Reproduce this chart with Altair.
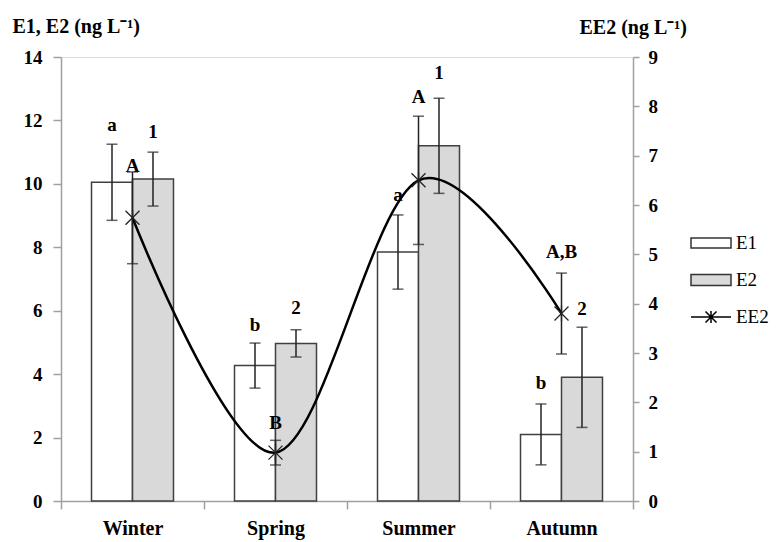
import altair as alt
import pandas as pd

seasons = ["Winter", "Spring", "Summer", "Autumn"]
e1 = [10.05, 4.27, 7.85, 2.10]
e1_err = [1.20, 0.71, 1.17, 0.96]
e2 = [10.15, 4.97, 11.20, 3.90]
e2_err = [0.85, 0.43, 1.50, 1.58]
ee2 = [5.74, 0.98, 6.50, 3.80]
ee2_err = [0.93, 0.25, 1.30, 0.82]

# significance letters
bar_lab_season = ["Winter", "Winter", "Spring", "Spring", "Summer", "Summer", "Autumn", "Autumn"]
bar_lab_series = ["E1", "E2", "E1", "E2", "E1", "E2", "E1", "E2"]
bar_lab_y = [11.85, 11.65, 5.55, 6.1, 9.65, 13.5, 3.72, 6.05]
bar_lab_text = ["a", "1", "b", "2", "a", "1", "b", "2"]
ee2_lab_y = [10.55, 2.45, 12.75, 7.85]
ee2_lab_text = ["A", "B", "A", "A,B"]

series_names = ["E1", "E2", "EE2"]
series_fill = ["white", "#d9d9d9", "transparent"]
series_stroke = ["#333333", "#333333", "black"]
legend_paths = [
    "M-2,-0.5L2,-0.5L2,0.5L-2,0.5Z",
    "M-2,-0.55L2,-0.55L2,0.55L-2,0.55Z",
    "M-2,0L2,0M-0.55,-0.55L0.55,0.55M-0.55,0.55L0.55,-0.55M0,-0.6L0,0.6",
]

rows = []
for i, s in enumerate(seasons):
    rows.append({"season": s, "series": "E1", "value": e1[i], "lo": e1[i] - e1_err[i], "hi": e1[i] + e1_err[i]})
    rows.append({"season": s, "series": "E2", "value": e2[i], "lo": e2[i] - e2_err[i], "hi": e2[i] + e2_err[i]})
bars_df = pd.DataFrame(rows)
ee2_df = pd.DataFrame({
    "season": seasons,
    "value": ee2,
    "lo": [v - e for v, e in zip(ee2, ee2_err)],
    "hi": [v + e for v, e in zip(ee2, ee2_err)],
})
lab_df = pd.DataFrame({"season": bar_lab_season, "series": bar_lab_series, "y": bar_lab_y, "text": bar_lab_text})
lab2_df = pd.DataFrame({"season": seasons, "y": ee2_lab_y, "text": ee2_lab_text})
leg_df = pd.DataFrame({"series": series_names})

FONT = "Liberation Serif"
x_scale = alt.Scale(domain=seasons, paddingInner=0, paddingOuter=0)
xo_scale = alt.Scale(domain=["E1", "E2"], paddingInner=0, paddingOuter=0.744)
yl_scale = alt.Scale(domain=[0, 14], nice=False)
yr_scale = alt.Scale(domain=[0, 9], nice=False)

x_axis = alt.Axis(labelAngle=0, tickBand="extent", tickSize=8, labelPadding=9,
                  labelFont=FONT, labelFontWeight="bold", labelFontSize=20,
                  labelColor="black", domainColor="#a0a0a0", tickColor="#a0a0a0",
                  domainWidth=1.5, tickWidth=1.5, title=None)
yl_axis = alt.Axis(values=list(range(0, 15, 2)), tickSize=8, labelPadding=11, labelAlign="right",
                   labelFont=FONT, labelFontWeight="bold", labelFontSize=19,
                   labelColor="black", domainColor="#a0a0a0", tickColor="#a0a0a0",
                   domainWidth=1.5, tickWidth=1.5, grid=False,
                   title="E1, E2 (ng L\u207b\u00b9)", titleAngle=0, titleAlign="left",
                   titleBaseline="alphabetic", titleX=-49, titleY=-25,
                   titleFont=FONT, titleFontWeight="bold", titleFontSize=20,
                   titleColor="black")
yr_axis = alt.Axis(orient="right", values=list(range(0, 10)), tickSize=6, labelPadding=9,
                   labelAlign="left",
                   labelFont=FONT, labelFontWeight="bold", labelFontSize=19,
                   labelColor="black", domainColor="#a0a0a0", tickColor="#a0a0a0",
                   domainWidth=1.5, tickWidth=1.5, grid=False,
                   title="EE2 (ng L\u207b\u00b9)", titleAngle=0, titleAlign="left",
                   titleBaseline="alphabetic", titleX=-54, titleY=-24,
                   titleFont=FONT, titleFontWeight="bold", titleFontSize=20,
                   titleColor="black")

X = alt.X("season:N", scale=x_scale, sort=seasons, axis=x_axis, title=None)
XO = alt.XOffset("series:N", scale=xo_scale)


def YL(field):
    return alt.Y(field, scale=yl_scale, axis=yl_axis, title="E1, E2 (ng L\u207b\u00b9)")


def YR(field):
    return alt.Y(field, scale=yr_scale, axis=yr_axis, title="EE2 (ng L\u207b\u00b9)")


bars = alt.Chart(bars_df).mark_bar(stroke="#404040", strokeWidth=1.5).encode(
    x=X, xOffset=XO, y=YL("value:Q"),
    fill=alt.condition(alt.datum.series == "E1", alt.value(series_fill[0]), alt.value(series_fill[1])),
)
err_rule = alt.Chart(bars_df).mark_rule(color="#222", strokeWidth=1.5).encode(
    x=X, xOffset=XO, y=YL("lo:Q"), y2="hi:Q")
cap_lo = alt.Chart(bars_df).mark_tick(color="#222", thickness=1.5, size=11).encode(
    x=X, xOffset=XO, y=YL("lo:Q"))
cap_hi = alt.Chart(bars_df).mark_tick(color="#222", thickness=1.5, size=11).encode(
    x=X, xOffset=XO, y=YL("hi:Q"))
txt_bar = alt.Chart(lab_df).mark_text(font=FONT, fontWeight="bold", fontSize=19, color="black",
                                      baseline="middle").encode(
    x=X, xOffset=XO, y=YL("y:Q"), text="text:N")
txt_ee2 = alt.Chart(lab2_df).mark_text(font=FONT, fontWeight="bold", fontSize=19, color="black",
                                       baseline="middle").encode(
    x=X, y=YL("y:Q"), text="text:N")

left = alt.layer(bars, err_rule, cap_lo, cap_hi, txt_bar, txt_ee2)

line = alt.Chart(ee2_df).mark_line(color="black", strokeWidth=2.5, interpolate="cardinal").encode(
    x=X, y=YR("value:Q"))
ee2_rule = alt.Chart(ee2_df).mark_rule(color="#222", strokeWidth=1.5).encode(
    x=X, y=YR("lo:Q"), y2="hi:Q")
ee2_cap_lo = alt.Chart(ee2_df).mark_tick(color="#222", thickness=1.5, size=11).encode(
    x=X, y=YR("lo:Q"))
ee2_cap_hi = alt.Chart(ee2_df).mark_tick(color="#222", thickness=1.5, size=11).encode(
    x=X, y=YR("hi:Q"))
stars = alt.Chart(ee2_df).mark_point(
    shape="M-1,-1L1,1M-1,1L1,-1M0,-1.15L0,1.15", size=196, filled=False,
    color="#222", strokeWidth=1.3, opacity=1).encode(
    x=X, y=YR("value:Q"))

leg = alt.Legend(title=None, orient="none", legendX=639, legendY=175,
                 symbolSize=400, symbolStrokeWidth=1.5, symbolOpacity=1,
                 labelFont=FONT, labelFontSize=19, labelColor="black",
                 labelOffset=14, rowPadding=16)
legend_layer = alt.Chart(leg_df).mark_point(filled=True, opacity=0, size=400).encode(
    x=alt.value(0), y=alt.value(0),
    fill=alt.Fill("series:N", scale=alt.Scale(domain=series_names, range=series_fill), legend=leg),
    stroke=alt.Stroke("series:N", scale=alt.Scale(domain=series_names, range=series_stroke), legend=leg),
    shape=alt.Shape("series:N", scale=alt.Scale(domain=series_names, range=legend_paths), legend=leg),
)

right = alt.layer(ee2_rule, ee2_cap_lo, ee2_cap_hi, line, stars, legend_layer)

chart = alt.layer(left, right).resolve_scale(y="independent").properties(
    width=572, height=444,
    padding={"left": 53, "top": 49, "right": 140, "bottom": 41},
    autosize=alt.AutoSizeParams(type="none"),
).configure_view(strokeWidth=0).configure_legend(
    labelFont=FONT, labelFontSize=19, labelColor="black"
).configure(background="white")

chart.save("out.html", embed_options={"renderer": "svg", "actions": False})
